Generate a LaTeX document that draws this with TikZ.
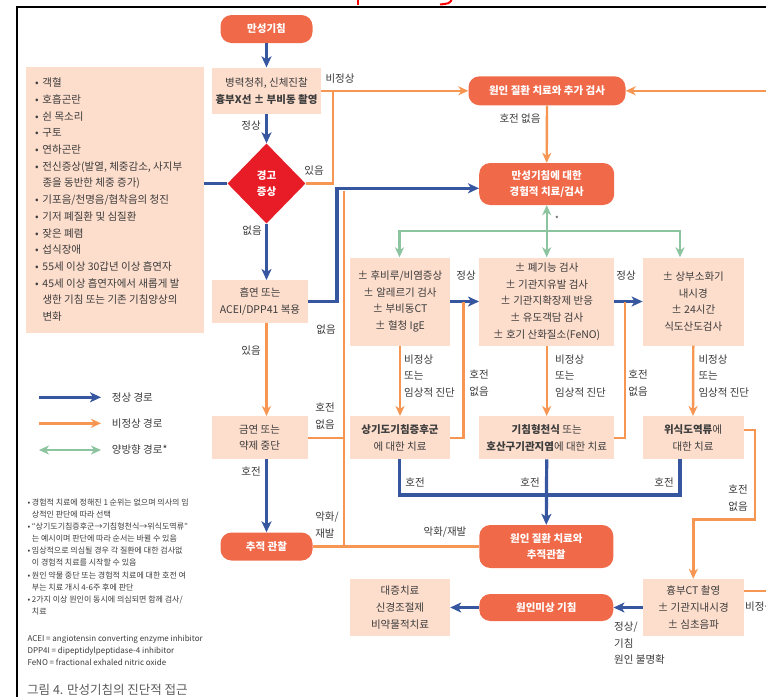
\documentclass[tikz,border=0pt]{standalone}
\usepackage{fontspec}
\setmainfont{Noto Sans CJK KR}
\usetikzlibrary{shapes.geometric,arrows.meta}
\definecolor{nodered}{RGB}{240,106,74}
\definecolor{peach}{RGB}{253,221,204}
\definecolor{warnred}{RGB}{232,28,38}
\definecolor{lineblue}{RGB}{55,86,160}
\definecolor{lineorange}{RGB}{247,150,82}
\definecolor{linegreen}{RGB}{141,196,160}
\definecolor{txt}{RGB}{60,60,60}
\definecolor{captxt}{RGB}{90,90,90}
\newcommand\myfs{\fontsize{10.5}{16.7}\selectfont}
\newcommand\smfs{\fontsize{8}{12.05}\selectfont}
\begin{document}
\begin{tikzpicture}[x=1pt,y=-1pt,
  rnode/.style={fill=nodered, rounded corners=11pt, text=white, font=\myfs\bfseries, align=center, inner sep=0pt},
  pbox/.style={fill=peach, text=txt, font=\myfs, align=center, inner sep=0pt},
  lbl/.style={text=txt, font=\myfs, align=left, inner sep=0pt},
  blL/.style={draw=lineblue, line width=3.2pt},
  blA/.style={blL, -{Stealth[length=11pt,width=10pt,inset=3pt]}},
  orL/.style={draw=lineorange, line width=2.4pt},
  orA/.style={orL, -{Stealth[length=10pt,width=9pt,inset=3pt]}},
  grL/.style={draw=linegreen, line width=2.4pt},
  grA/.style={grL, -{Stealth[length=10pt,width=9pt,inset=3pt]}},
  grB/.style={grL, {Stealth[length=10pt,width=9pt,inset=3pt]}-{Stealth[length=10pt,width=9pt,inset=3pt]}}
]
\fill[white] (0,0) rectangle (766,697);
\useasboundingbox (0,0) rectangle (766,697);

% frame and cut-off red marks at the top
\draw[black, line width=2pt] (17,697) -- (17,6.7) -- (766,6.7);
\draw[red, line width=2pt] (358,0) -- (358,5);
\draw[red, line width=2pt] (451.7,0) .. controls (449,3.5) .. (440,4.5);

% ---------- nodes ----------
\node[rnode, minimum width=92pt, minimum height=28pt] (start) at (266.5,29) {만성기침};
\node[pbox, minimum width=109pt, minimum height=46.5pt] (hist) at (266.5,90.8) {병력청취, 신체진찰\\\textbf{흉부X선 ± 부비동 촬영}};
\node[diamond, fill=warnred, minimum width=78pt, minimum height=80pt, inner sep=0pt, text=white, font=\myfs\bfseries, align=center] (warn) at (266.5,183.5) {경고\\증상};
\node[fill=peach, minimum width=178pt, minimum height=266.7pt, inner sep=0pt] (list) at (115,200) {};
\node[lbl, anchor=west] (listtxt) at (35,199.7) {%
\makebox[7.3pt][l]{•}객혈\\
\makebox[7.3pt][l]{•}호흡곤란\\
\makebox[7.3pt][l]{•}쉰 목소리\\
\makebox[7.3pt][l]{•}구토\\
\makebox[7.3pt][l]{•}연하곤란\\
\makebox[7.3pt][l]{•}전신증상(발열, 체중감소, 사지부\\
\hspace*{7.3pt}종을 동반한 체중 증가)\\
\makebox[7.3pt][l]{•}기포음/천명음/협착음의 청진\\
\makebox[7.3pt][l]{•}기저 폐질환 및 심질환\\
\makebox[7.3pt][l]{•}잦은 폐렴\\
\makebox[7.3pt][l]{•}섭식장애\\
\makebox[7.3pt][l]{•}55세 이상 30갑년 이상 흡연자\\
\makebox[7.3pt][l]{•}45세 이상 흡연자에서 새롭게 발\\
\hspace*{7.3pt}생한 기침 또는 기존 기침양상의\\
\hspace*{7.3pt}변화};
\node[pbox, minimum width=96pt, minimum height=43pt] (smoke) at (260,301.7) {흡연 또는\\ACEI/DPP41 복용};
\node[pbox, minimum width=96pt, minimum height=43pt] (quit) at (259.5,437.7) {금연 또는\\약제 중단};
\node[rnode, minimum width=92pt, minimum height=28pt] (follow) at (266.5,546.5) {추적 관찰};

\node[rnode, minimum width=157pt, minimum height=29pt] (cause1) at (547,90.8) {원인 질환 치료와 추가 검사};
\node[rnode, minimum width=135pt, minimum height=42pt] (emp) at (546.7,184) {만성기침에 대한\\경험적 치료/검사};

\node[pbox, minimum width=100pt, minimum height=88pt] (t1) at (400,301.5) {± 후비루/비염증상\\± 알레르기 검사\\± 부비동CT\\± 혈청 IgE};
\node[pbox, minimum width=135pt, minimum height=88pt] (t2) at (546.7,301.5) {± 폐기능 검사\\± 기관지유발 검사\\± 기관지확장제 반응\\± 유도객담 검사\\± 호기 산화질소(FeNO)};
\node[pbox, minimum width=101pt, minimum height=88pt] (t3) at (693.3,301.5) {± 상부소화기\\내시경\\± 24시간\\식도산도검사};

\node[pbox, minimum width=100pt, minimum height=43pt] (r1) at (400,437.7) {\textbf{상기도기침증후군}\\에 대한 치료};
\node[pbox, minimum width=135pt, minimum height=43pt] (r2) at (546.7,437.7) {\textbf{기침형천식} 또는\\\textbf{호산구기관지염}에 대한 치료};
\node[pbox, minimum width=101pt, minimum height=43pt] (r3) at (693,437.7) {\textbf{위식도역류}에\\대한 치료};

\node[rnode, minimum width=134pt, minimum height=43pt] (cause2) at (546.3,546.5) {원인 질환 치료와\\추적관찰};
\node[pbox, minimum width=101pt, minimum height=57pt] (ct) at (693.3,607.5) {흉부CT 촬영\\± 기관지내시경\\± 심초음파};
\node[rnode, minimum width=134pt, minimum height=27pt] (unk) at (546.3,607.5) {원인미상 기침};
\node[pbox, minimum width=100pt, minimum height=57pt] (sym) at (400,607.5) {대증치료\\신경조절제\\비약물적치료};

% ---------- labels ----------
\node[lbl] (l1) at (251,126) {정상};
\node[lbl] (l2) at (340,78.5) {비정상};
\node[lbl] (l3) at (314,171) {있음};
\node[lbl] (l4) at (252,231) {없음};
\node[lbl] (l5) at (520,119) {호전 없음};
\node[lbl] (l6) at (326,330) {없음};
\node[lbl] (l7) at (251,351) {있음};
\node[lbl] (l8) at (325,416) {호전\\없음};
\node[lbl] (l9) at (251,471) {호전};
\node[lbl] (l10) at (327,525) {악화/\\재발};
\node[lbl] (l11) at (445,532) {악화/재발};
\node[lbl] (l12) at (466,276) {정상};
\node[lbl] (l13) at (626,276) {정상};
\node[lbl, anchor=west] (l14) at (404,376) {비정상\\또는\\임상적 진단};
\node[lbl, anchor=west] (l15) at (555,376) {비정상\\또는\\임상적 진단};
\node[lbl, anchor=west] (l16) at (698.3,376) {비정상\\또는\\임상적 진단};
\node[lbl] (l17) at (479,383) {호전\\없음};
\node[lbl] (l18) at (638,383) {호전\\없음};
\node[lbl] (l19) at (415,482) {호전};
\node[lbl] (l20) at (530,482) {호전};
\node[lbl] (l21) at (664,482) {호전};
\node[lbl] (l22) at (738,498) {호전\\없음};
\node[lbl, anchor=west] (l23) at (614,643.3) {정상/\\기침\\원인 불명확};
\node[text=txt, font=\fontsize{8}{8}\selectfont, inner sep=0pt] (ast) at (557,219) {*};
\begin{scope}
\clip (0,0) rectangle (766,697);
\node[lbl, anchor=west] (l24) at (745,607) {비정상};
\end{scope}

% ---------- connectors ----------
\draw[blA] (start.south) -- (hist.north);
\draw[blA] (hist.south) -- (warn.north);
\draw[blA] (warn.south) -- (smoke.north -| warn.south);
\draw[blL] (list.east |- warn.west) -- (warn.west);
\coordinate (b1) at (337,188.3);
\draw[blA] (smoke.east) -| (b1) -- (emp.west |- b1);
\draw[blA] (quit.south -| warn.south) -- (follow.north -| warn.south);

\draw[orA] (hist.east) -- (cause1.west);
\coordinate (j1) at (333,90.8);
\draw[orL] (warn.east) -| (j1);
\coordinate (rin) at (766,90.8);
\draw[orA] (rin) -- (cause1.east);
\draw[orA] (cause1.south) -- (emp.north);
\draw[orA] (smoke.south -| warn.south) -- (quit.north -| warn.south);
\coordinate (o1) at (344,190.5);
\coordinate (o2) at (344,546.5);
\draw[orL] (quit.east) -- (quit.east -| o1);
\draw[orL] (o1) -- (o2);
\draw[orL] (follow.east) -- (cause2.west);

\coordinate (gm) at (546.7,231);
\coordinate (g1) at (399.5,231);
\coordinate (g3) at (680,231);
\draw[grB] (emp.south) -- (t2.north);
\draw[grA] (gm) -- (g1) -- (g1 |- t1.north);
\draw[grA] (gm) -- (g3) -- (g3 |- t3.north);

\draw[blA] (t1.east) -- (t2.west);
\draw[blA] (t2.east) -- (t3.west);

\draw[orA] (t1.south) -- (r1.north);
\draw[orA] (t2.south) -- (r2.north);
\draw[orA] (t3.south) -- (r3.north);
\draw[orL] (r1.east) -| (463.3,301.5);
\draw[orL] (r2.east) -| (625,301.5);
\coordinate (c1) at (755,430);
\coordinate (c2) at (755,519.3);
\coordinate (c3) at (693.3,519.3);
\draw[orA] (r3.east |- c1) -- (c1) -- (c2) -- (c3) -- (ct.north);

\coordinate (m1) at (399.5,495);
\coordinate (m3) at (680,495);
\draw[blL] (r1.south -| m1) -- (m1) -- (m3) -- (m3 |- r3.south);
\draw[blA] (r2.south) -- (cause2.north);

\coordinate (rout) at (766,590.7);
\draw[orL] (ct.east |- rout) -- (rout);
\draw[blA] (ct.west) -- (unk.east);
\draw[blA] (unk.west) -- (sym.east);

% ---------- legend ----------
\coordinate (lg1a) at (39,397.3); \coordinate (lg1b) at (101,397.3);
\coordinate (lg2a) at (39,423.3); \coordinate (lg2b) at (101,423.3);
\coordinate (lg3a) at (39,450);   \coordinate (lg3b) at (101,450);
\draw[blA] (lg1a) -- (lg1b);
\draw[orA] (lg2a) -- (lg2b);
\draw[grB] (lg3a) -- (lg3b);
\node[lbl, anchor=west] (lg1t) at (111.7,397.3) {정상 경로};
\node[lbl, anchor=west] (lg2t) at (111.7,423.3) {비정상 경로};
\node[lbl, anchor=west] (lg3t) at (111.7,450) {양방향 경로*};

% ---------- notes ----------
\node[text=txt, font=\smfs, align=left, inner sep=0pt, anchor=west] (notes) at (27.5,556.9) {%
\makebox[4.2pt][l]{•}경험적 치료에 정해진 1 순위는 없으며 의사의 임\\
\hspace*{4.2pt}상적인 판단에 따라 선택\\
\makebox[4.2pt][l]{•}“상기도기침증후군→기침형천식→위식도역류”\\
\hspace*{4.2pt}는 예시이며 판단에 따라 순서는 바뀔 수 있음\\
\makebox[4.2pt][l]{•}임상적으로 의심될 경우 각 질환에 대한 검사없\\
\hspace*{4.2pt}이 경험적 치료를 시작할 수 있음\\
\makebox[4.2pt][l]{•}원인 약물 중단 또는 경험적 치료에 대한 호전 여\\
\hspace*{4.2pt}부는 치료 개시 4-6주 후에 판단\\
\makebox[4.2pt][l]{•}2가지 이상 원인이 동시에 의심되면 함께 검사/\\
\hspace*{4.2pt}치료};
\node[text=txt, font=\fontsize{8}{12.2}\selectfont, align=left, inner sep=0pt, anchor=west] (abbr) at (27.3,650.3) {%
ACEI = angiotensin converting enzyme inhibitor\\
DPP4I = dipeptidylpeptidase-4 inhibitor\\
FeNO = fractional exhaled nitric oxide};
\node[text=captxt, font=\fontsize{12.5}{14}\selectfont, inner sep=0pt, anchor=west] (cap) at (27,690) {그림 4. 만성기침의 진단적 접근};
\end{tikzpicture}
\end{document}
